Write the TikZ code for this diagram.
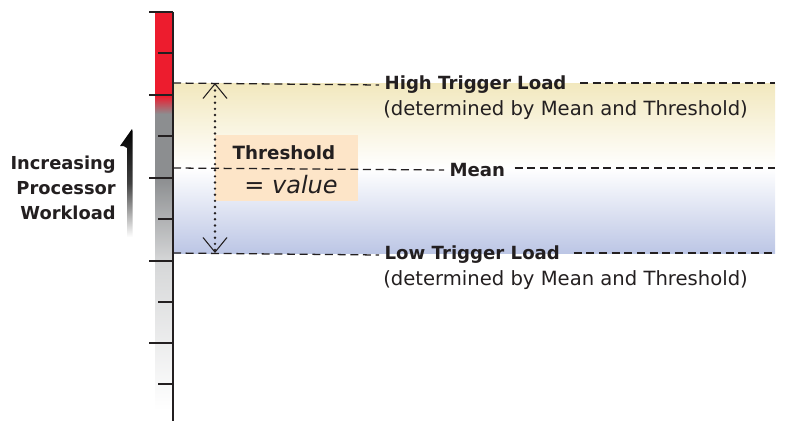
\documentclass[tikz,border=0pt]{standalone}
\usepackage{fontspec}
\setmainfont{DejaVu Sans}
\usepackage{xcolor}
\usetikzlibrary{arrows.meta,positioning}

\definecolor{ink}{HTML}{231F20}
\definecolor{barred}{HTML}{ED1C2E}
\definecolor{bargray}{HTML}{8C8E90}
\definecolor{barlight}{HTML}{D6D7D8}
\definecolor{bandyellow}{HTML}{F2E8BE}
\definecolor{bandblue}{HTML}{BCC6E5}
\definecolor{peach}{HTML}{FDE5C8}

\begin{document}
\begin{tikzpicture}[x=0.75pt,y=-0.75pt,
   lbl/.style={font=\fontsize{14.7}{17}\selectfont,text=ink,inner sep=0pt},
   boldlbl/.style={lbl,font=\fontsize{13.6}{16}\selectfont\bfseries,inner xsep=4pt},
   dashline/.style={draw=ink,line width=0.95pt,dash pattern=on 6pt off 3.5pt},
   majortick/.style={draw=ink,line width=1.6pt},
   minortick/.style={draw=ink,line width=1.1pt},
   spanarrow/.style={draw=ink,line width=2pt,line cap=round,
      dash pattern=on 0pt off 4.6pt,
      {Straight Barb[length=11pt,width=18pt,line width=0.8pt]}-{Straight Barb[length=11pt,width=18pt,line width=0.8pt]}}]
\useasboundingbox (0,0) rectangle (793,421);

% load bands
\shade[top color=bandyellow,bottom color=white] (173,83) rectangle (775,168);
\shade[top color=white,bottom color=bandblue] (173,168) rectangle (775,253);

% workload bar
\fill[barred] (155,12) rectangle (173,96);
\shade[top color=barred,bottom color=bargray] (155,96) rectangle (173,114);
\fill[bargray] (155,114) rectangle (173,178);
\shade[top color=bargray,bottom color=barlight] (155,178) rectangle (173,262);
\shade[top color=barlight,bottom color=white] (155,262) rectangle (173,410);

% threshold box
\node[fill=peach,minimum width=143*0.75pt,minimum height=66*0.75pt,inner sep=0pt] (threshbox) at (286.5,168) {};
\node[lbl,font=\fontsize{13.7}{16}\selectfont\bfseries] (threshname) at (284,153) {Threshold};
\node[lbl,font=\fontsize{18}{21}\selectfont] (threshval) at (291,185) {= \textit{value}};

% axis and ticks
\coordinate (axtop) at (173,12);
\coordinate (axbot) at (173,421);
\foreach \y in {12,95,178,261,343}
   \draw[majortick] (149,\y) -- (173,\y);
\foreach \y in {53,136,219,302,384}
   \draw[minortick] (158,\y) -- (173,\y);
\draw[draw=ink,line width=2pt] (axtop) -- (axbot);

% trigger lines
\coordinate (highleft) at (173,83);
\coordinate (highright) at (775,83);
\coordinate (meanleft) at (173,168);
\coordinate (meanright) at (775,168);
\coordinate (lowleft) at (173,253);
\coordinate (lowright) at (775,253);

\node[boldlbl,anchor=west] (hightxt) at (379,85) {High Trigger Load};
\node[lbl,anchor=west] (highsub) at (383,110) {(determined by Mean and Threshold)};
\node[boldlbl,anchor=west] (meantxt) at (444,170) {Mean};
\node[boldlbl,anchor=west] (lowtxt) at (379,255) {Low Trigger Load};
\node[lbl,anchor=west] (lowsub) at (383,280) {(determined by Mean and Threshold)};

\draw[dashline] (highleft) -- (hightxt.west);
\draw[dashline] (hightxt.east |- highright) ++(8,0) -- (highright);
\draw[dashline] (meanleft) -- (meantxt.west);
\draw[dashline] (meantxt.east |- meanright) ++(4,0) -- (meanright);
\draw[dashline] (lowleft) -- (lowtxt.west);
\draw[dashline] (lowtxt.east |- lowright) ++(8,0) -- (lowright);

% threshold span
\coordinate (spantop) at (215,83);
\coordinate (spanbot) at (215,253);
\draw[spanarrow] (spantop) -- (spanbot);

% workload label and arrow
\node[lbl,font=\fontsize{13.4}{18.75}\selectfont\bfseries,align=right,anchor=east] (worktxt) at (116,188)
   {Increasing\\Processor\\Workload};
\shade[top color=black,bottom color=white,middle color=black!75]
   (127,237) -- (127,148) .. controls (125,146) and (123,146) .. (120,146)
   -- (132,129) -- (132.5,131) -- (132.5,237) -- cycle;
\end{tikzpicture}
\end{document}
